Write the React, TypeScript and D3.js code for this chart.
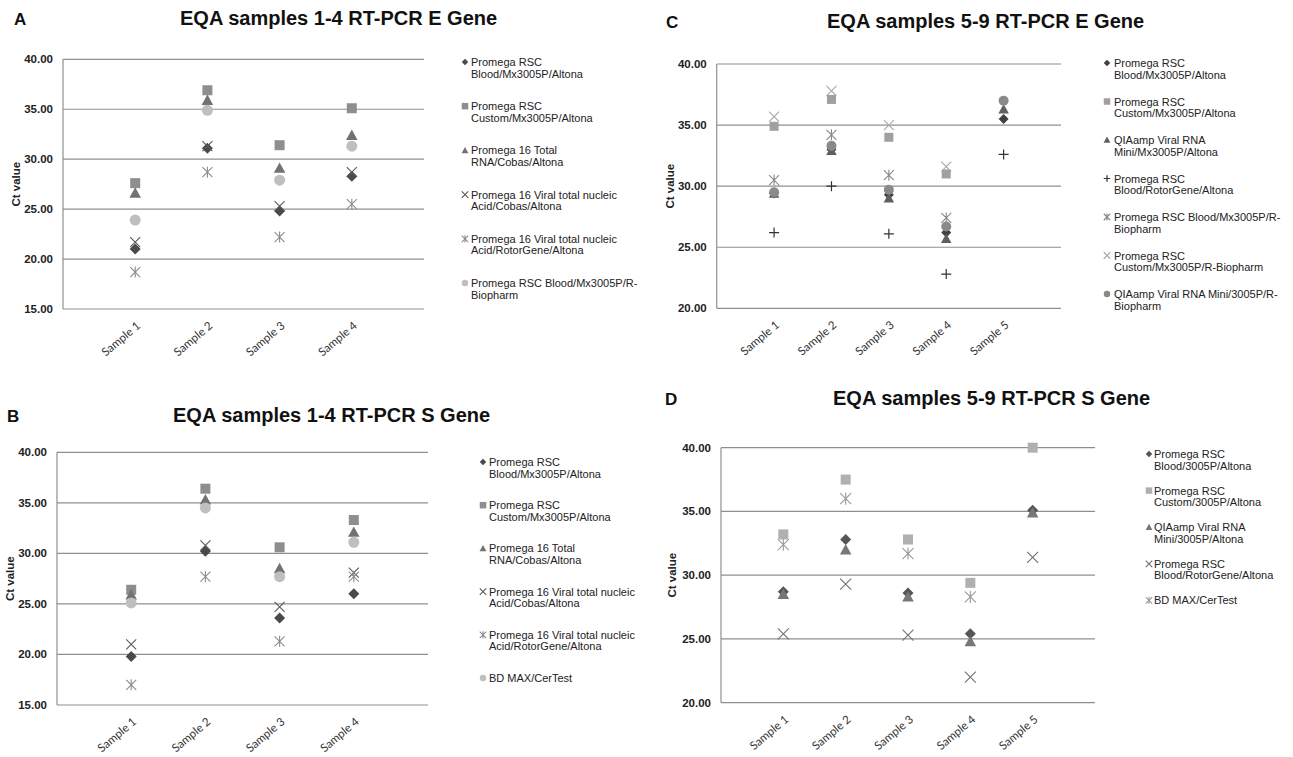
import React from 'react';
import * as d3 from 'd3';

// ---------- DATA ----------
const samplesAB = ['Sample 1', 'Sample 2', 'Sample 3', 'Sample 4'];
const samplesCD = ['Sample 1', 'Sample 2', 'Sample 3', 'Sample 4', 'Sample 5'];
const ticksAB = [15, 20, 25, 30, 35, 40];
const ticksCD = [20, 25, 30, 35, 40];

// Panel A: EQA samples 1-4 RT-PCR E Gene
const aLabels = [
  ['Promega RSC', 'Blood/Mx3005P/Altona'],
  ['Promega RSC', 'Custom/Mx3005P/Altona'],
  ['Promega 16 Total', 'RNA/Cobas/Altona'],
  ['Promega 16 Viral total nucleic', 'Acid/Cobas/Altona'],
  ['Promega 16 Viral total nucleic', 'Acid/RotorGene/Altona'],
  ['Promega RSC Blood/Mx3005P/R-', 'Biopharm'],
];
const aBloodMx = [21.0, 31.1, 24.8, 28.3];
const aCustomMx = [27.6, 36.9, 31.4, 35.1];
const a16TotalCobas = [26.6, 35.9, 29.1, 32.4];
const a16ViralCobas = [21.7, 31.3, 25.3, 28.7];
const a16ViralRotor = [18.7, 28.7, 22.2, 25.5];
const aBloodRBio = [23.9, 34.9, 27.9, 31.3];

// Panel B: EQA samples 1-4 RT-PCR S Gene
const bLabels = [
  ['Promega RSC', 'Blood/Mx3005P/Altona'],
  ['Promega RSC', 'Custom/Mx3005P/Altona'],
  ['Promega 16 Total', 'RNA/Cobas/Altona'],
  ['Promega 16 Viral total nucleic', 'Acid/Cobas/Altona'],
  ['Promega 16 Viral total nucleic', 'Acid/RotorGene/Altona'],
  ['BD MAX/CerTest'],
];
const bBloodMx = [19.8, 30.2, 23.6, 26.0];
const bCustomMx = [26.4, 36.4, 30.6, 33.3];
const b16TotalCobas = [25.9, 35.3, 28.5, 32.1];
const b16ViralCobas = [21.0, 30.8, 24.7, 28.1];
const b16ViralRotor = [17.0, 27.7, 21.3, 27.7];
const bBdMax = [25.1, 34.5, 27.7, 31.1];

// Panel C: EQA samples 5-9 RT-PCR E Gene
const cLabels = [
  ['Promega RSC', 'Blood/Mx3005P/Altona'],
  ['Promega RSC', 'Custom/Mx3005P/Altona'],
  ['QIAamp Viral RNA', 'Mini/Mx3005P/Altona'],
  ['Promega RSC', 'Blood/RotorGene/Altona'],
  ['Promega RSC Blood/Mx3005P/R-', 'Biopharm'],
  ['Promega RSC', 'Custom/Mx3005P/R-Biopharm'],
  ['QIAamp Viral RNA Mini/3005P/R-', 'Biopharm'],
];
const cBloodMx = [29.4, 33.0, 29.3, 26.2, 35.5];
const cCustomMx = [34.9, 37.1, 34.0, 31.0, null];
const cQiaMx = [29.4, 32.9, 29.0, 25.7, 36.3];
const cBloodRotor = [26.2, 30.0, 26.1, 22.8, 32.6];
const cBloodRBio = [30.5, 34.2, 30.9, 27.4, null];
const cCustomRBio = [35.7, 37.8, 35.0, 31.6, null];
const cQiaRBio = [29.5, 33.3, 29.7, 26.7, 37.0];

// Panel D: EQA samples 5-9 RT-PCR S Gene
const dLabels = [
  ['Promega RSC', 'Blood/3005P/Altona'],
  ['Promega RSC', 'Custom/3005P/Altona'],
  ['QIAamp Viral RNA', 'Mini/3005P/Altona'],
  ['Promega RSC', 'Blood/RotorGene/Altona'],
  ['BD MAX/CerTest'],
];
const dBlood3005 = [28.7, 32.8, 28.6, 25.4, 35.1];
const dCustom3005 = [33.2, 37.5, 32.8, 29.4, 40.0];
const dQia3005 = [28.5, 32.0, 28.3, 24.8, 34.9];
const dBloodRotor = [25.4, 29.3, 25.3, 22.0, 31.4];
const dBdMax = [32.4, 36.0, 31.7, 28.3, null];

// ---------- STYLE / LAYOUT ----------
type Mk = 'diamond' | 'square' | 'triangle' | 'x' | 'star' | 'circle' | 'plus';

const FONT = "'Liberation Sans', Arial, sans-serif";
const TICKFONT = "Lato, 'Open Sans', sans-serif";

function Marker({ type, cx, cy, s, color }: { type: Mk; cx: number; cy: number; s: number; color: string }) {
  const h = s / 2;
  switch (type) {
    case 'diamond':
      return <path d={`M${cx},${cy - h}L${cx + h},${cy}L${cx},${cy + h}L${cx - h},${cy}Z`} fill={color} />;
    case 'square':
      return <rect x={cx - h} y={cy - h} width={s} height={s} fill={color} />;
    case 'triangle':
      return <path d={`M${cx},${cy - h * 1.05}L${cx + h * 1.05},${cy + h * 0.85}L${cx - h * 1.05},${cy + h * 0.85}Z`} fill={color} />;
    case 'circle':
      return <circle cx={cx} cy={cy} r={h} fill={color} />;
    case 'x':
      return (
        <path d={`M${cx - h},${cy - h}L${cx + h},${cy + h}M${cx - h},${cy + h}L${cx + h},${cy - h}`} stroke={color} strokeWidth={1.1} fill="none" />
      );
    case 'star':
      return (
        <path
          d={`M${cx - h},${cy - h}L${cx + h},${cy + h}M${cx - h},${cy + h}L${cx + h},${cy - h}M${cx},${cy - h * 1.1}L${cx},${cy + h * 1.1}`}
          stroke={color}
          strokeWidth={1.1}
          fill="none"
        />
      );
    case 'plus':
      return <path d={`M${cx - h},${cy}L${cx + h},${cy}M${cx},${cy - h}L${cx},${cy + h}`} stroke={color} strokeWidth={1.2} fill="none" />;
  }
  return null;
}

type Series = { values: (number | null)[]; label: string[]; mk: Mk; color: string; size: number };

type Panel = {
  letter: string;
  letterX: number;
  letterY: number;
  title: string;
  titleX: number;
  titleY: number;
  x0: number;
  x1: number;
  y0: number;
  y1: number;
  yDomain: [number, number];
  ticks: number[];
  cats: string[];
  yLabelX: number;
  legend: { mx: number; tx: number; y0: number; step: number };
  series: Series[];
};

const panels: Panel[] = [
  {
    letter: 'A', letterX: 14, letterY: 25,
    title: 'EQA samples 1-4 RT-PCR E Gene', titleX: 180, titleY: 25,
    x0: 63, x1: 424, y0: 59.3, y1: 309, yDomain: [15, 40], ticks: ticksAB, cats: samplesAB, yLabelX: 16,
    legend: { mx: 465, tx: 471, y0: 62, step: 44.2 },
    series: [
      { values: aBloodMx, label: aLabels[0], mk: 'diamond', color: '#4a4a4a', size: 11 },
      { values: aCustomMx, label: aLabels[1], mk: 'square', color: '#8e8e8e', size: 10 },
      { values: a16TotalCobas, label: aLabels[2], mk: 'triangle', color: '#727272', size: 11 },
      { values: a16ViralCobas, label: aLabels[3], mk: 'x', color: '#5a5a5a', size: 10 },
      { values: a16ViralRotor, label: aLabels[4], mk: 'star', color: '#8c8c8c', size: 10 },
      { values: aBloodRBio, label: aLabels[5], mk: 'circle', color: '#bfbfbf', size: 11 },
    ],
  },
  {
    letter: 'B', letterX: 7, letterY: 422,
    title: 'EQA samples 1-4 RT-PCR S Gene', titleX: 173, titleY: 422,
    x0: 57, x1: 428, y0: 452.3, y1: 705, yDomain: [15, 40], ticks: ticksAB, cats: samplesAB, yLabelX: 10,
    legend: { mx: 483, tx: 489, y0: 462, step: 43.2 },
    series: [
      { values: bBloodMx, label: bLabels[0], mk: 'diamond', color: '#4a4a4a', size: 11 },
      { values: bCustomMx, label: bLabels[1], mk: 'square', color: '#8e8e8e', size: 10 },
      { values: b16TotalCobas, label: bLabels[2], mk: 'triangle', color: '#727272', size: 11 },
      { values: b16ViralCobas, label: bLabels[3], mk: 'x', color: '#5a5a5a', size: 10 },
      { values: b16ViralRotor, label: bLabels[4], mk: 'star', color: '#8c8c8c', size: 10 },
      { values: bBdMax, label: bLabels[5], mk: 'circle', color: '#bfbfbf', size: 11 },
    ],
  },
  {
    letter: 'C', letterX: 666, letterY: 28,
    title: 'EQA samples 5-9 RT-PCR E Gene', titleX: 827, titleY: 28,
    x0: 716.7, x1: 1061, y0: 64, y1: 308.3, yDomain: [20, 40], ticks: ticksCD, cats: samplesCD, yLabelX: 670,
    legend: { mx: 1107, tx: 1114, y0: 63, step: 38.5 },
    series: [
      { values: cBloodMx, label: cLabels[0], mk: 'diamond', color: '#404040', size: 10 },
      { values: cCustomMx, label: cLabels[1], mk: 'square', color: '#a0a0a0', size: 9 },
      { values: cQiaMx, label: cLabels[2], mk: 'triangle', color: '#606060', size: 10 },
      { values: cBloodRotor, label: cLabels[3], mk: 'plus', color: '#333333', size: 10 },
      { values: cBloodRBio, label: cLabels[4], mk: 'star', color: '#888888', size: 10 },
      { values: cCustomRBio, label: cLabels[5], mk: 'x', color: '#a8a8a8', size: 10 },
      { values: cQiaRBio, label: cLabels[6], mk: 'circle', color: '#8a8a8a', size: 10 },
    ],
  },
  {
    letter: 'D', letterX: 665, letterY: 405,
    title: 'EQA samples 5-9 RT-PCR S Gene', titleX: 833, titleY: 405,
    x0: 721, x1: 1095, y0: 447.7, y1: 702.7, yDomain: [20, 40], ticks: ticksCD, cats: samplesCD, yLabelX: 672,
    legend: { mx: 1149, tx: 1154, y0: 454, step: 36.6 },
    series: [
      { values: dBlood3005, label: dLabels[0], mk: 'diamond', color: '#555555', size: 11 },
      { values: dCustom3005, label: dLabels[1], mk: 'square', color: '#b0b0b0', size: 10 },
      { values: dQia3005, label: dLabels[2], mk: 'triangle', color: '#777777', size: 11 },
      { values: dBloodRotor, label: dLabels[3], mk: 'x', color: '#707070', size: 11 },
      { values: dBdMax, label: dLabels[4], mk: 'star', color: '#9a9a9a', size: 11 },
    ],
  },
];

function PanelView({ p }: { p: Panel }) {
  const x = d3.scaleLinear().domain([0, p.cats.length + 1]).range([p.x0, p.x1]);
  const y = d3.scaleLinear().domain(p.yDomain).range([p.y1, p.y0]);
  const cy = (p.y0 + p.y1) / 2;
  return (
    <g>
      <text x={p.letterX} y={p.letterY} fontFamily={FONT} fontWeight="bold" fontSize={17} fill="#111">{p.letter}</text>
      <text x={p.titleX} y={p.titleY} fontFamily={FONT} fontWeight="bold" fontSize={20} fill="#111">{p.title}</text>
      {p.ticks.map((t) => (
        <g key={t}>
          <line x1={p.x0} x2={p.x1} y1={y(t)} y2={y(t)} stroke="#8f8f8f" strokeWidth={1.2} />
          <text x={p.x0 - 10} y={y(t) + 4} textAnchor="end" fontFamily={FONT} fontWeight="bold" fontSize={11.5} fill="#222">
            {d3.format('.2f')(t)}
          </text>
        </g>
      ))}
      <line x1={p.x0} x2={p.x0} y1={p.y0} y2={p.y1} stroke="#8f8f8f" strokeWidth={1.2} />
      <text
        transform={`translate(${p.yLabelX + 4},${cy}) rotate(-90)`}
        textAnchor="middle"
        fontFamily={FONT}
        fontWeight="bold"
        fontSize={11.5}
        fill="#222"
      >
        Ct value
      </text>
      {p.cats.map((c, i) => (
        <text
          key={c}
          transform={`translate(${x(i + 1) + 6},${p.y1 + 18}) rotate(-40)`}
          textAnchor="end"
          fontFamily={TICKFONT}
          fontSize={11.5}
          fill="#333"
        >
          {c}
        </text>
      ))}
      {p.series.map((s, si) => (
        <g key={si}>
          {s.values.map((v, i) =>
            v == null ? null : <Marker key={i} type={s.mk} cx={x(i + 1)} cy={y(v)} s={s.size} color={s.color} />
          )}
        </g>
      ))}
      {p.series.map((s, si) => {
        const ly = p.legend.y0 + si * p.legend.step;
        return (
          <g key={'l' + si}>
            <Marker type={s.mk} cx={p.legend.mx} cy={ly} s={6.5} color={s.color} />
            {s.label.map((t, li) => (
              <text key={li} x={p.legend.tx} y={ly + 4 + li * 11.5} fontFamily={FONT} fontSize={11} fill="#222">
                {t}
              </text>
            ))}
          </g>
        );
      })}
    </g>
  );
}

export default function App() {
  return (
    <svg width={1293} height={757} style={{ position: 'absolute', left: 0, top: 0, background: '#fff' }}>
      <rect width={1293} height={757} fill="#fff" />
      {panels.map((p) => (
        <PanelView key={p.letter} p={p} />
      ))}
    </svg>
  );
}
